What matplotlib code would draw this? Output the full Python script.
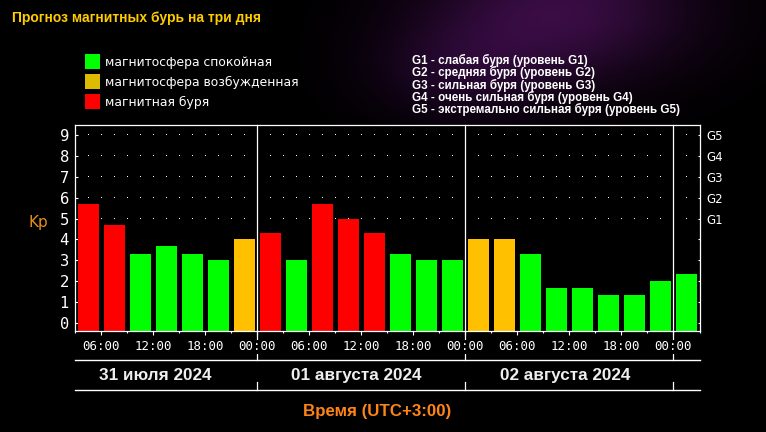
import numpy as np
import matplotlib
matplotlib.use("Agg")
import matplotlib.pyplot as plt
from matplotlib.patches import Rectangle
from matplotlib.transforms import blended_transform_factory

# ---------------- data ----------------
title = "Прогноз магнитных бурь на три дня"
interval_start_hours = [3, 6, 9, 12, 15, 18, 21,
                        24, 27, 30, 33, 36, 39, 42, 45,
                        48, 51, 54, 57, 60, 63, 66, 69,
                        72]
kp_values = [5.67, 4.67, 3.33, 3.67, 3.33, 3.00, 4.00,
             4.33, 3.00, 5.67, 5.00, 4.33, 3.33, 3.00, 3.00,
             4.00, 4.00, 3.33, 1.67, 1.67, 1.33, 1.33, 2.00,
             2.33]
status = ["storm", "storm", "calm", "calm", "calm", "calm", "active",
          "storm", "calm", "storm", "storm", "storm", "calm", "calm", "calm",
          "active", "active", "calm", "calm", "calm", "calm", "calm", "calm",
          "calm"]
tick_hours = [6, 12, 18, 24, 30, 36, 42, 48, 54, 60, 66, 72]
tick_labels = ["06:00", "12:00", "18:00", "00:00", "06:00", "12:00",
               "18:00", "00:00", "06:00", "12:00", "18:00", "00:00"]
day_boundaries = [24, 48, 72]
date_labels = ["31 июля 2024", "01 августа 2024", "02 августа 2024"]
kp_ticks = [0, 1, 2, 3, 4, 5, 6, 7, 8, 9]
g_ticks = [5, 6, 7, 8, 9]
g_labels = ["G1", "G2", "G3", "G4", "G5"]
legend_labels = ["магнитосфера спокойная", "магнитосфера возбужденная", "магнитная буря"]
g_descriptions = ["G1 - слабая буря (уровень G1)",
                  "G2 - средняя буря (уровень G2)",
                  "G3 - сильная буря (уровень G3)",
                  "G4 - очень сильная буря (уровень G4)",
                  "G5 - экстремально сильная буря (уровень G5)"]
xlabel = "Время (UTC+3:00)"
ylabel = "Kp"

# ---------------- style ----------------
bar_colors = {"calm": "#00FF00", "active": "#FFC000", "storm": "#FF0000"}
legend_colors = ["#00FF00", "#DDBB00", "#FF0000"]
W, H = 766, 432
DPI = 100

def fx(px):
    return px / W

def fy(py):
    return 1 - py / H

fig = plt.figure(figsize=(W / DPI, H / DPI), dpi=DPI, facecolor="black")

# background with faint purple haze
bg = fig.add_axes([0, 0, 1, 1], zorder=-10)
yy, xx = np.mgrid[0:H, 0:W]
g1 = np.exp(-(((xx - 560) / 130.0) ** 2 + ((yy - 10) / 70.0) ** 2))
g2 = np.exp(-(((xx - 460) / 90.0) ** 2 + ((yy - 70) / 50.0) ** 2))
img = np.zeros((H, W, 3))
img[..., 0] = 0.22 * g1 + 0.10 * g2
img[..., 1] = 0.05 * g1 + 0.02 * g2
img[..., 2] = 0.26 * g1 + 0.13 * g2
bg.imshow(np.clip(img, 0, 1), aspect="auto", extent=(0, 1, 0, 1))
bg.set_axis_off()

# main axes
ax_left, ax_right, ax_top, ax_bot = 74.5, 699.5, 125.3, 330.7
ax = fig.add_axes([fx(ax_left), fy(ax_bot), fx(ax_right) - fx(ax_left), fy(ax_top) - fy(ax_bot)])
ax.set_facecolor("black")
x0, x1 = 2.9, 75.0
y0, y1 = -0.353, 9.448
ax.set_xlim(x0, x1)
ax.set_ylim(y0, y1)

# dotted grid (rows 5..9, every 1.5 h) as single pixels
gx = np.arange(4.5, 75.0, 1.5)
for gy in g_ticks:
    ax.plot(gx, np.full_like(gx, gy), ",", color="white", zorder=1)

# bars
centers = [h + 1.5 for h in interval_start_hours]
heights = [v - y0 for v in kp_values]
ax.bar(centers, heights, bottom=y0, width=2.42,
       color=[bar_colors[s] for s in status], zorder=2, linewidth=0)

for sp in ax.spines.values():
    sp.set_color("white")
    sp.set_linewidth(0.9)

# y ticks (left)
ax.set_yticks(kp_ticks)
ax.set_yticklabels([str(t) for t in kp_ticks], fontfamily="DejaVu Sans Mono",
                   fontsize=11.2, color="white")
ax.tick_params(axis="y", direction="in", length=2.2, width=0.8, color="white", pad=4)

# x ticks
ax.set_xticks(tick_hours)
ax.set_xticklabels(tick_labels, fontfamily="DejaVu Sans Mono", fontsize=9, color="white")
ax.set_xticks([h for h in range(3, 76, 6)], minor=True)
ax.tick_params(axis="x", which="major", direction="out", length=2.6, width=0.8,
               color="white", pad=4.3)
ax.tick_params(axis="x", which="minor", direction="out", length=1.5, width=0.8,
               color="white")
for lbl in ax.get_xticklabels():
    lbl.set_bbox(dict(facecolor="black", edgecolor="none", pad=0.5))

# right axis G levels
axr = ax.twinx()
axr.set_ylim(y0, y1)
axr.set_yticks(kp_ticks)
axr.set_yticklabels([""] * 5 + g_labels, fontfamily="DejaVu Sans", fontsize=8.5,
                    color="white")
axr.tick_params(axis="y", direction="in", length=1.6, width=0.8, color="white", pad=5)
for sp in axr.spines.values():
    sp.set_visible(False)

# day boundary lines and lower frame
bt = blended_transform_factory(ax.transData, fig.transFigure)
for d in day_boundaries:
    ax.plot([d, d], [fy(ax_top), fy(360.3)], color="white", lw=0.9, transform=bt,
            clip_on=False, zorder=1.5)
    ax.plot([d, d], [fy(381.7), fy(390.3)], color="white", lw=0.9, transform=bt,
            clip_on=False, zorder=1.5)
for yl in (360.3, 390.3):
    ax.plot([x0, x1], [fy(yl), fy(yl)], color="white", lw=1.0, transform=bt,
            clip_on=False)

date_label_x = [12.2, 35.45, 59.45]
for xpos, lab in zip(date_label_x, date_labels):
    ax.text(xpos, fy(380.2), lab, transform=bt, ha="center", va="baseline",
            fontfamily="Liberation Sans", fontweight="bold", fontsize=12.3,
            color="#EEEEEE")

# axis labels
fig.text(fx(377), fy(415.8), xlabel, ha="center", va="baseline",
         fontfamily="Liberation Sans", fontweight="bold", fontsize=12.2,
         color="#FF8418")
fig.text(fx(38.5), fy(227.5), ylabel, ha="center", va="baseline",
         fontfamily="DejaVu Sans", fontsize=11, color="#E8901A")

# title
fig.text(fx(12), fy(22), title, ha="left", va="baseline",
         fontfamily="Liberation Sans", fontweight="bold", fontsize=10,
         color="#FFCC00")

# legend
for i, (lab, col) in enumerate(zip(legend_labels, legend_colors)):
    cy = 61.5 + 20 * i
    fig.patches.append(Rectangle((fx(85), fy(cy + 7.5)), fx(15), 15 / H,
                                 transform=fig.transFigure, facecolor=col,
                                 edgecolor="none"))
    fig.text(fx(105), fy(cy + 4.8), lab, ha="left", va="baseline",
             fontfamily="DejaVu Sans", fontsize=8.9, color="white")

# G descriptions
for i, lab in enumerate(g_descriptions):
    fig.text(fx(411.7), fy(64.3 + 12.1 * i), lab, ha="left", va="baseline",
             fontfamily="Liberation Sans", fontweight="bold", fontsize=8.4,
             color="white")

fig.savefig("out.png", dpi=DPI, facecolor="black")
